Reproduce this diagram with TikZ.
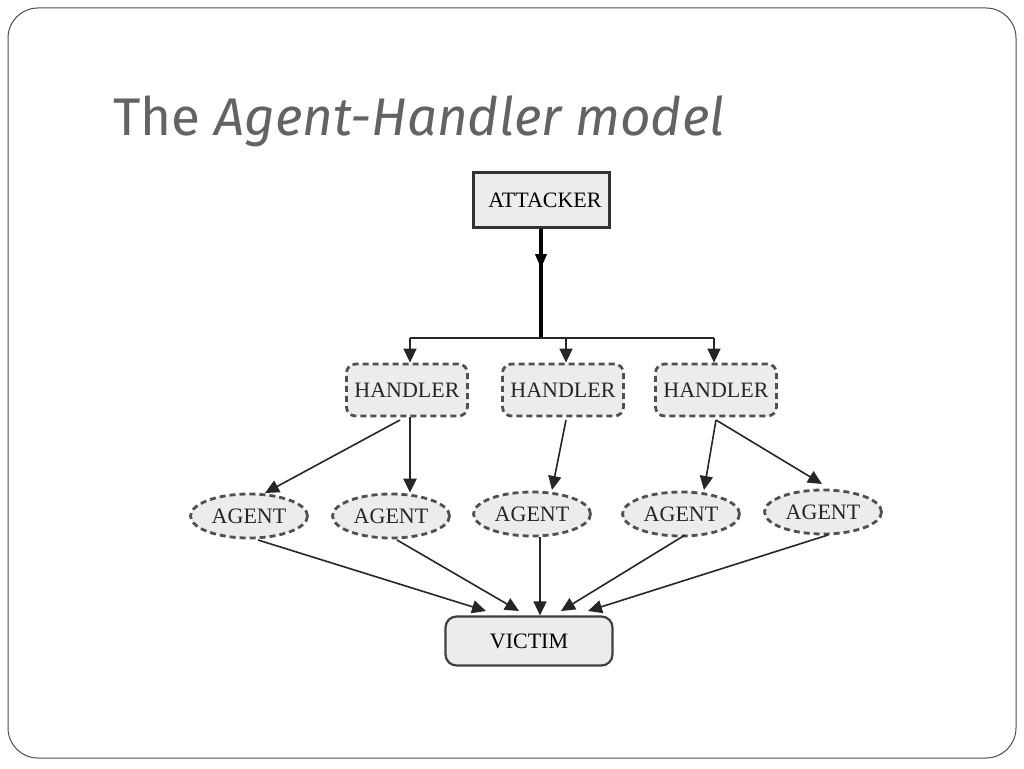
\documentclass[tikz,border=0pt]{standalone}
\usepackage{fontspec}
\setmainfont{Liberation Serif}
\newfontfamily\titlefont{Fira Sans}
\usetikzlibrary{shapes.geometric,arrows.meta}
\definecolor{titlegray}{HTML}{636363}
\definecolor{boxfill}{HTML}{ECECEC}
\definecolor{dashgray}{HTML}{505050}
\tikzset{
  hbox/.style={draw=dashgray,line width=2.8pt,dash pattern=on 6pt off 4pt,rounded corners=9pt,fill=boxfill,minimum width=121pt,minimum height=52pt,font=\fontsize{22}{22}\selectfont,text=black!85},
  agbox/.style={ellipse,draw=dashgray,line width=2.8pt,dash pattern=on 6pt off 4pt,fill=boxfill,minimum width=117pt,minimum height=44pt,inner sep=0pt,font=\fontsize{22}{22}\selectfont,text=black!85},
  arr/.style={-{Triangle[length=14pt,width=13pt]},line width=1.6pt,draw=black!85},
  tarr/.style={-{Triangle[length=14pt,width=13pt]},line width=2.6pt,draw=black!85}
}
\begin{document}
\begin{tikzpicture}[x=1pt,y=-1pt]
\useasboundingbox (0,0) rectangle (1024,768);
\fill[white] (0,0) rectangle (1024,768);
\draw[black!70,line width=1pt,rounded corners=30pt] (8,8) rectangle (1016,758);
\node[anchor=base west,inner sep=0pt,text=titlegray,font=\titlefont\fontsize{53}{53}\selectfont] (title) at (113,135) {The \textit{Agent-Handler model}};

\node[draw=black!80,line width=3pt,fill=boxfill,minimum width=136pt,minimum height=55pt,font=\fontsize{22}{22}\selectfont] (att) at (541,200) {\hspace*{8pt}ATTACKER};

\node[hbox] (h1) at (407,390) {HANDLER};
\node[hbox] (h2) at (563,390) {HANDLER};
\node[hbox] (h3) at (716,390) {HANDLER};

\node[agbox] (a1) at (249,516) {AGENT};
\node[agbox] (a2) at (391,516) {AGENT};
\node[agbox] (a3) at (532,514) {AGENT};
\node[agbox] (a4) at (681,514) {AGENT};
\node[agbox] (a5) at (823,512) {AGENT};

\node[draw=black!75,line width=2.2pt,rounded corners=11pt,fill=boxfill,minimum width=167pt,minimum height=49pt,font=\fontsize{22}{22}\selectfont] (vic) at (529,641) {VICTIM};

% attacker trunk
\coordinate (mid) at (541,268);
\coordinate (junc) at (541,338);
\draw[line width=4.5pt,black] (att.south) -- (junc);
\draw[-{Triangle[length=14pt,width=12pt]},line width=0.1pt,black] (541,250) -- (mid);
\coordinate (jl) at (410,338);
\coordinate (jr) at (714,338);
\draw[line width=2pt,black!85] (jl) -- (jr);
\draw[arr] (jl) -- (h1.north -| jl);
\draw[arr] (566,338) -- (h2.north -| 566,0);
\draw[arr] (jr) -- (h3.north -| jr);

% handlers to agents
\draw[arr] (400,420) -- (265,493);
\draw[tarr] (h1.south -| 410,0) -- (a2.north -| 410,0);
\draw[arr] (566,420) -- (552,490);
\draw[arr] (716,420) -- (704,490);
\draw[arr] (716,420) -- (822,484);

% agents to victim
\draw[arr] (258,540) -- (486,611);
\draw[arr] (397,540) -- (519,611);
\draw[arr] (a3.south -| 540,0) -- (vic.north -| 540,0);
\draw[arr] (685,535) -- (561,611);
\draw[arr] (828,535) -- (588,611);
\end{tikzpicture}
\end{document}
